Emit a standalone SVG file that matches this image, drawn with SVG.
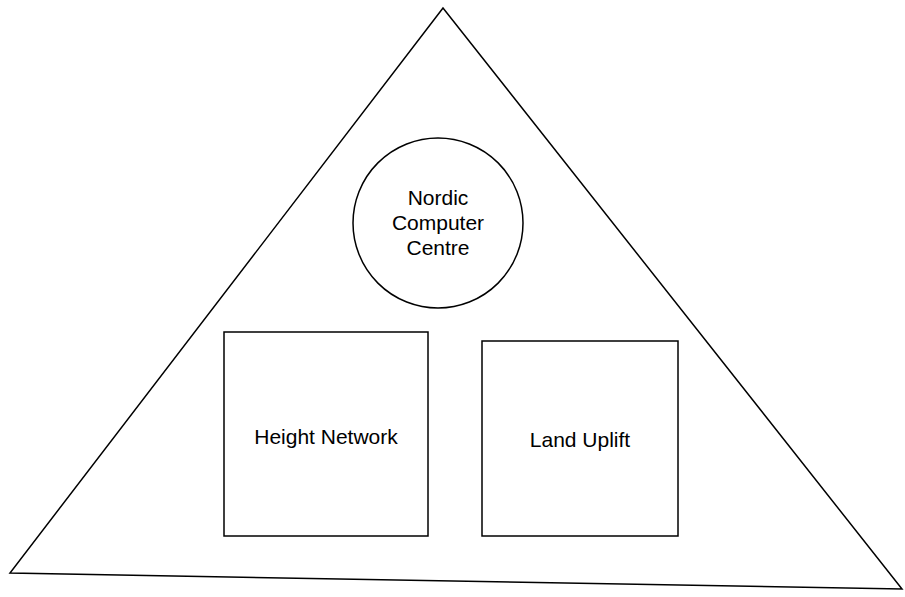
<svg xmlns="http://www.w3.org/2000/svg" width="905" height="597" viewBox="0 0 905 597">
<style>
.s{fill:#fff;stroke:#000;stroke-width:1.5}
.t{font-family:"Liberation Sans",Arial,sans-serif;font-size:21px;fill:#000;text-anchor:middle}
</style>
<rect width="905" height="597" fill="#fff"/>
<g id="triangle"><polygon class="s" points="443,8 10,573 902,589" stroke-width="2"/></g>
<g id="nordic"><circle class="s" cx="438" cy="223" r="85"/>
<text class="t" x="438" y="205">Nordic</text>
<text class="t" x="438" y="230">Computer</text>
<text class="t" x="438" y="255">Centre</text></g>
<g id="height"><rect class="s" x="224" y="332" width="204" height="204"/>
<text class="t" x="326" y="444">Height Network</text></g>
<g id="land"><rect class="s" x="482" y="341" width="196" height="195"/>
<text class="t" x="580" y="447">Land Uplift</text></g>
<g id="connectors"/>
</svg>
